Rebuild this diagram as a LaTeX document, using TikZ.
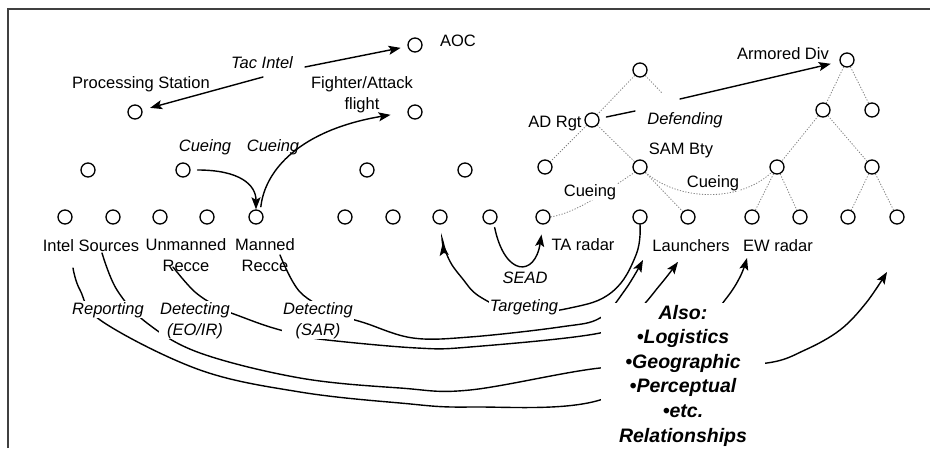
\documentclass[tikz,border=0pt]{standalone}
\usepackage{fontspec}
\setmainfont{Liberation Sans}
\usetikzlibrary{arrows.meta}
\pgfdeclarelayer{bg}
\pgfsetlayers{bg,main}
\begin{document}
\begin{tikzpicture}[x=1pt,y=-1pt,
  circ/.style={circle, draw, line width=1.3pt, minimum size=14pt, inner sep=0pt, fill=white},
  lbl/.style={font=\fontsize{16.5}{21}\selectfont, inner sep=1pt, align=center, anchor=base},
  ilbl/.style={font=\fontsize{16.5}{21}\selectfont\itshape, inner sep=1pt, align=center, anchor=base},
  wfill/.style={fill=white},
  tree/.style={draw=black!50, line width=0.8pt, dash pattern=on 1.2pt off 1.6pt},
  conn/.style={line width=1.4pt, line cap=round},
  arr/.style={conn, -{Stealth[length=12pt,width=9pt,inset=2.5pt]}},
  frame/.style={line width=1.4pt, draw=black!75}]
\useasboundingbox (0,0) rectangle (930,451);
\draw[frame] (8,448) -- (8,9) -- (930,9);

% labels (multi-line nodes: base = baseline of last line)
\node[lbl] (PSl) at (141,88) {Processing Station};
\node[lbl] (AOCl) at (458,46) {AOC};
\node[lbl] (FAl) at (362,109) {Fighter/Attack\\flight};
\node[ilbl] (TIl) at (262,68) {Tac Intel};
\node[ilbl] (cue1) at (205,151) {Cueing};
\node[ilbl] (cue2) at (273,151) {Cueing};
\node[lbl] (ADl) at (555,127) {AD Rgt};
\node[ilbl] (DEFl) at (685,124) {Defending};
\node[lbl] (SAMl) at (681,154) {SAM Bty};
\node[lbl] (ARMl) at (783,59) {Armored Div};
\node[lbl,wfill] (cue3) at (590,196) {Cueing};
\node[lbl,wfill] (cue4) at (713,187) {Cueing};
\node[lbl] (ISl) at (91,251) {Intel Sources};
\node[lbl] (URl) at (186,271) {Unmanned\\Recce};
\node[lbl] (MRl) at (265,271) {Manned\\Recce};
\node[lbl] (TAl) at (583,250) {TA radar};
\node[lbl] (LAl) at (691,251) {Launchers};
\node[lbl] (EWl) at (778,251) {EW radar};
\node[ilbl] (SEADl) at (525,283) {SEAD};
\node[ilbl,wfill] (TGl) at (524,311) {Targeting};
\node[ilbl,wfill] (REPl) at (108,314) {Reporting};
\node[ilbl,wfill] (DEOl) at (195,335) {Detecting\\(EO/IR)};
\node[ilbl,wfill] (DSARl) at (318,335) {Detecting\\(SAR)};
\node[anchor=base, align=center, fill=white, inner xsep=18pt, inner ysep=2pt,
  font=\fontsize{19.5}{24.6}\selectfont\bfseries\itshape] (ALSO) at (683,442)
  {Also:\\•Logistics\\•Geographic\\•Perceptual\\•etc.\\Relationships};

% circles
\foreach \n/\x in {b1/65,b2/113,b3/160,b4/207,b5/256,b6/345,b7/393,b8/440,b9/490,b10/543,b11/640,b12/688,b13/752,b14/800,b15/848,b16/897}
  \node[circ] (\n) at (\x,217) {};
\node[circ] (m1) at (88,170) {};
\node[circ] (m2) at (183,170) {};
\node[circ] (m3) at (367,170) {};
\node[circ] (m4) at (465,170) {};
\node[circ] (m5) at (545,167) {};
\node[circ] (SAM) at (640,167) {};
\node[circ] (ar1) at (777,167) {};
\node[circ] (ar2) at (872,167) {};
\node[circ] (PS) at (135,112) {};
\node[circ] (FA) at (415,112) {};
\node[circ] (ADRgt) at (592,120) {};
\node[circ] (a31) at (823,110) {};
\node[circ] (a32) at (872,110) {};
\node[circ] (AOC) at (415,45) {};
\node[circ] (ADtop) at (640,70) {};
\node[circ] (Arm) at (847,60) {};

\coordinate (ti1) at (263,77);
\coordinate (ti2) at (305,67);
\coordinate (df1) at (635,111);
\coordinate (df2) at (680,99);
\coordinate (adstub) at (662,93);

\begin{pgfonlayer}{bg}
% tree lines
\draw[tree] (ADtop) -- (ADRgt);
\draw[tree] (ADtop) -- (adstub);
\draw[tree] (ADRgt) -- (m5);
\draw[tree] (ADRgt) -- (SAM);
\draw[tree] (SAM) -- (b12);
\draw[tree] (b10.east) .. controls (580,212) and (615,185) .. (SAM.south west);
\draw[tree] (SAM.south east) .. controls (680,202) and (740,202) .. (ar1.south west);
\draw[tree] (Arm) -- (a31);
\draw[tree] (Arm) -- (a32);
\draw[tree] (a31) -- (ar1);
\draw[tree] (a31) -- (ar2);
\draw[tree] (ar1) -- (b13);
\draw[tree] (ar1) -- (b14);
\draw[tree] (ar2) -- (b15);
\draw[tree] (ar2) -- (b16);

% connectors
\draw[arr, shorten >=8pt] (ti1) -- (PS);
\draw[arr, shorten >=7pt] (ti2) -- (AOC);
\draw[conn, shorten <=7pt] (ADRgt) -- (df1);
\draw[arr, shorten >=9pt] (df2) -- (Arm);
\draw[arr, shorten <=7pt] (m2.east) .. controls (240,170) and (256,185) .. (b5.north);
\draw[arr, shorten <=4pt, shorten >=17pt] (b5.55) .. controls (265,170) and (300,130) .. (FA.west);
\draw[arr, shorten <=4pt, shorten >=10pt] (b9.300) .. controls (505,277) and (535,277) .. (b10.south);
\draw[arr, shorten >=19pt] plot[smooth, tension=0.7] coordinates {(b11.south) (636,255) (612,292) (570,308) (520,312) (482,298) (462,278) (447,255) (b8.south)};
% Intel Sources
\draw[arr] plot[smooth, tension=0.6] coordinates {(73,268) (80,290) (103,322) (200,370) (300,392) (400,403) (470,407) (600,400) (690,340) (725,300) (740,277) (747,258)};
\draw[arr] plot[smooth, tension=0.6] coordinates {(102,253) (117,290) (147,323) (200,353) (300,378) (400,388) (470,390) (600,368) (690,366) (767,363) (805,350) (840,330) (866,303) (887,272)};
% Manned Recce (SAR)
\draw[arr] plot[smooth, tension=0.6] coordinates {(280,255) (300,292) (335,313) (365,323) (413,338) (470,337) (560,327) (600,318) (625,290) (643,260)};
% Unmanned Recce (EO/IR)
\draw[arr] plot[smooth, tension=0.6] coordinates {(173,267) (195,292) (220,308) (242,317) (270,327) (300,335) (327,340) (417,348) (470,347) (600,333) (635,313) (660,285) (678,262)};
\end{pgfonlayer}
\end{tikzpicture}
\end{document}
